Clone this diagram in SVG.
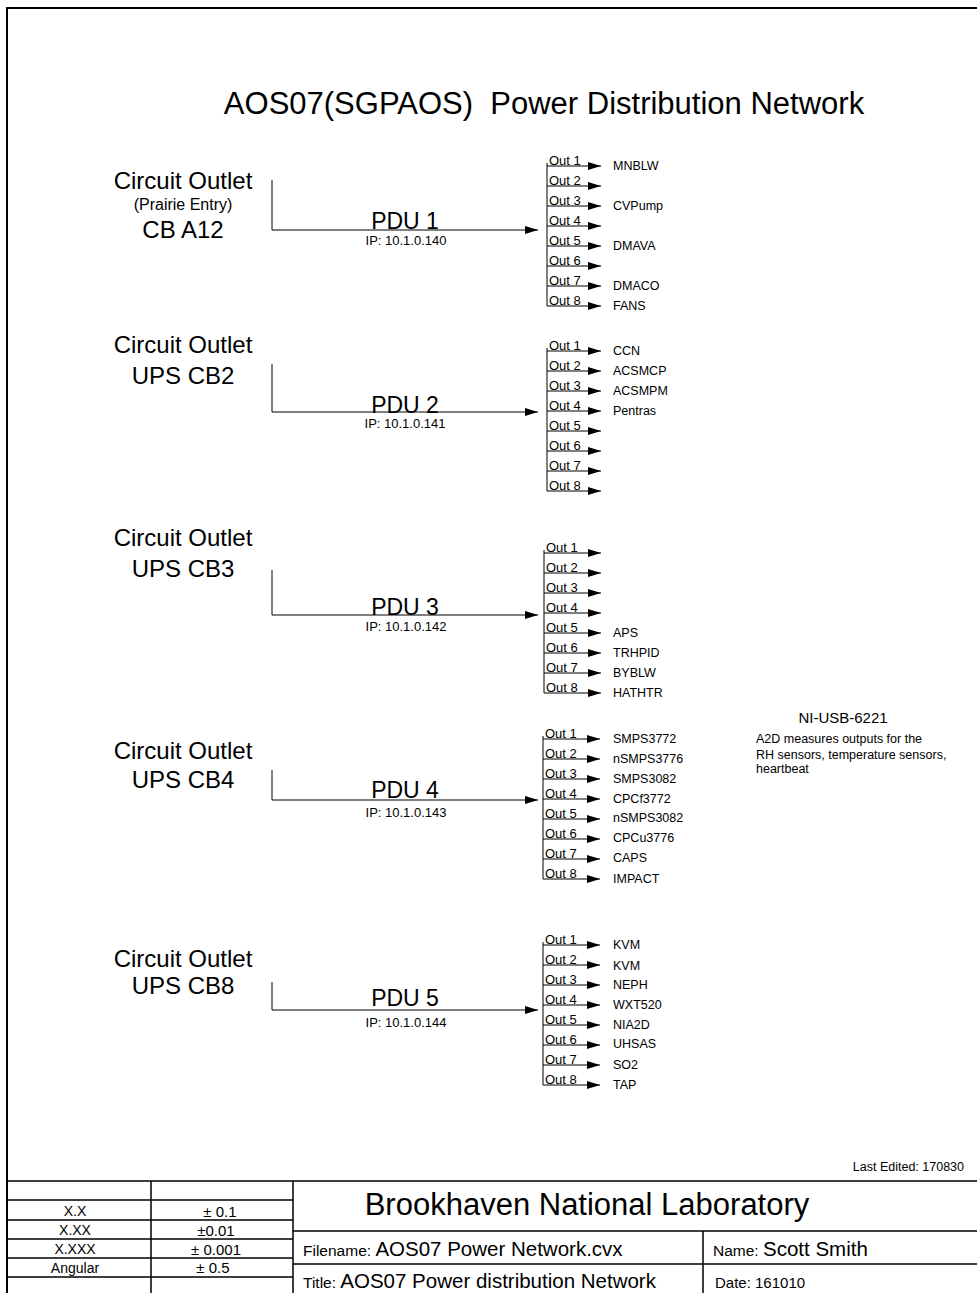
<svg xmlns="http://www.w3.org/2000/svg" width="977" height="1293" viewBox="0 0 977 1293">
<style>
text { font-family: "Liberation Sans", Arial, sans-serif; fill: #000; }
.title { font-size: 31px; text-anchor: middle; white-space: pre; }
.co { font-size: 24px; text-anchor: middle; }
.sub { font-size: 16px; text-anchor: middle; }
.pdu { font-size: 23px; text-anchor: middle; }
.ip { font-size: 13px; text-anchor: middle; }
.out { font-size: 13px; }
.lbl { font-size: 12.5px; }
.ni { font-size: 15px; text-anchor: middle; }
.note { font-size: 12.5px; }
.tb { font-size: 14px; text-anchor: middle; }
.tol { font-size: 15px; text-anchor: middle; }
.ln { stroke: #000; stroke-width: 1; fill: none; }
.arr { stroke: #000; stroke-width: 1; fill: none; marker-end: url(#ah); }
.frame { stroke: #000; stroke-width: 2; fill: none; }
.grid { stroke: #000; stroke-width: 1.5; fill: none; }
</style>
<defs>
<marker id="ah" markerUnits="userSpaceOnUse" markerWidth="14" markerHeight="9" refX="13" refY="4" orient="auto">
<path d="M0,0 L13,4 L0,8 Z" fill="#000"/>
</marker>
</defs>
<rect x="0" y="0" width="977" height="1293" fill="#fff"/>
<path class="frame" d="M7,1293 V8 H977"/>
<text class="title" x="544" y="114" xml:space="preserve">AOS07(SGPAOS)  Power Distribution Network</text>

<g id="outlet1">
<text class="co" x="183" y="189">Circuit Outlet</text>
<text class="sub" x="183" y="210">(Prairie Entry)</text>
<text class="co" x="183" y="238">CB A12</text>
</g>
<g id="outlet2">
<text class="co" x="183" y="353">Circuit Outlet</text>
<text class="co" x="183" y="384">UPS CB2</text>
</g>
<g id="outlet3">
<text class="co" x="183" y="546">Circuit Outlet</text>
<text class="co" x="183" y="577">UPS CB3</text>
</g>
<g id="outlet4">
<text class="co" x="183" y="759">Circuit Outlet</text>
<text class="co" x="183" y="788">UPS CB4</text>
</g>
<g id="outlet5">
<text class="co" x="183" y="967">Circuit Outlet</text>
<text class="co" x="183" y="994">UPS CB8</text>
</g>

<g id="pdu1">
<text class="pdu" x="405" y="229">PDU 1</text>
<text class="ip" x="406" y="245">IP: 10.1.0.140</text>
<text class="out" x="549" y="165">Out 1</text>
<text class="out" x="549" y="185">Out 2</text>
<text class="out" x="549" y="205">Out 3</text>
<text class="out" x="549" y="225">Out 4</text>
<text class="out" x="549" y="245">Out 5</text>
<text class="out" x="549" y="265">Out 6</text>
<text class="out" x="549" y="285">Out 7</text>
<text class="out" x="549" y="305">Out 8</text>
</g>
<g id="loads1">
<text class="lbl" x="613" y="170">MNBLW</text>
<text class="lbl" x="613" y="210">CVPump</text>
<text class="lbl" x="613" y="250">DMAVA</text>
<text class="lbl" x="613" y="290">DMACO</text>
<text class="lbl" x="613" y="310">FANS</text>
</g>

<g id="pdu2">
<text class="pdu" x="405" y="413">PDU 2</text>
<text class="ip" x="405" y="428">IP: 10.1.0.141</text>
<text class="out" x="549" y="350">Out 1</text>
<text class="out" x="549" y="370">Out 2</text>
<text class="out" x="549" y="390">Out 3</text>
<text class="out" x="549" y="410">Out 4</text>
<text class="out" x="549" y="430">Out 5</text>
<text class="out" x="549" y="450">Out 6</text>
<text class="out" x="549" y="470">Out 7</text>
<text class="out" x="549" y="490">Out 8</text>
</g>
<g id="loads2">
<text class="lbl" x="613" y="355">CCN</text>
<text class="lbl" x="613" y="375">ACSMCP</text>
<text class="lbl" x="613" y="395">ACSMPM</text>
<text class="lbl" x="613" y="415">Pentras</text>
</g>

<g id="pdu3">
<text class="pdu" x="405" y="615">PDU 3</text>
<text class="ip" x="406" y="631">IP: 10.1.0.142</text>
<text class="out" x="546" y="552">Out 1</text>
<text class="out" x="546" y="572">Out 2</text>
<text class="out" x="546" y="592">Out 3</text>
<text class="out" x="546" y="612">Out 4</text>
<text class="out" x="546" y="632">Out 5</text>
<text class="out" x="546" y="652">Out 6</text>
<text class="out" x="546" y="672">Out 7</text>
<text class="out" x="546" y="692">Out 8</text>
</g>
<g id="loads3">
<text class="lbl" x="613" y="637">APS</text>
<text class="lbl" x="613" y="657">TRHPID</text>
<text class="lbl" x="613" y="677">BYBLW</text>
<text class="lbl" x="613" y="697">HATHTR</text>
</g>

<g id="pdu4">
<text class="pdu" x="405" y="798">PDU 4</text>
<text class="ip" x="406" y="817">IP: 10.1.0.143</text>
<text class="out" x="545" y="738">Out 1</text>
<text class="out" x="545" y="758">Out 2</text>
<text class="out" x="545" y="778">Out 3</text>
<text class="out" x="545" y="798">Out 4</text>
<text class="out" x="545" y="818">Out 5</text>
<text class="out" x="545" y="838">Out 6</text>
<text class="out" x="545" y="858">Out 7</text>
<text class="out" x="545" y="878">Out 8</text>
</g>
<g id="loads4">
<text class="lbl" x="613" y="743">SMPS3772</text>
<text class="lbl" x="613" y="763">nSMPS3776</text>
<text class="lbl" x="613" y="783">SMPS3082</text>
<text class="lbl" x="613" y="803">CPCf3772</text>
<text class="lbl" x="613" y="822">nSMPS3082</text>
<text class="lbl" x="613" y="842">CPCu3776</text>
<text class="lbl" x="613" y="862">CAPS</text>
<text class="lbl" x="613" y="883">IMPACT</text>
</g>

<g id="pdu5">
<text class="pdu" x="405" y="1006">PDU 5</text>
<text class="ip" x="406" y="1027">IP: 10.1.0.144</text>
<text class="out" x="545" y="944">Out 1</text>
<text class="out" x="545" y="964">Out 2</text>
<text class="out" x="545" y="984">Out 3</text>
<text class="out" x="545" y="1004">Out 4</text>
<text class="out" x="545" y="1024">Out 5</text>
<text class="out" x="545" y="1044">Out 6</text>
<text class="out" x="545" y="1064">Out 7</text>
<text class="out" x="545" y="1084">Out 8</text>
</g>
<g id="loads5">
<text class="lbl" x="613" y="949">KVM</text>
<text class="lbl" x="613" y="970">KVM</text>
<text class="lbl" x="613" y="989">NEPH</text>
<text class="lbl" x="613" y="1009">WXT520</text>
<text class="lbl" x="613" y="1029">NIA2D</text>
<text class="lbl" x="613" y="1048">UHSAS</text>
<text class="lbl" x="613" y="1069">SO2</text>
<text class="lbl" x="613" y="1089">TAP</text>
</g>

<g id="ni-usb">
<text class="ni" x="843" y="723">NI-USB-6221</text>
<text class="note" x="756" y="743">A2D measures outputs for the</text>
<text class="note" x="756" y="759">RH sensors, temperature sensors,</text>
<text class="note" x="756" y="773">heartbeat</text>
</g>

<g id="connectors">
<path class="arr" d="M272,180 V230 H538"/>
<path class="ln" d="M547,163 V306"/>
<path class="arr" d="M547,166 H601"/>
<path class="arr" d="M547,186 H601"/>
<path class="arr" d="M547,206 H601"/>
<path class="arr" d="M547,226 H601"/>
<path class="arr" d="M547,246 H601"/>
<path class="arr" d="M547,266 H601"/>
<path class="arr" d="M547,286 H601"/>
<path class="arr" d="M547,306 H601"/>

<path class="arr" d="M272,364 V412 H538"/>
<path class="ln" d="M547,348 V491"/>
<path class="arr" d="M547,351 H601"/>
<path class="arr" d="M547,371 H601"/>
<path class="arr" d="M547,391 H601"/>
<path class="arr" d="M547,411 H601"/>
<path class="arr" d="M547,431 H601"/>
<path class="arr" d="M547,451 H601"/>
<path class="arr" d="M547,471 H601"/>
<path class="arr" d="M547,491 H601"/>

<path class="arr" d="M272,570 V615 H538"/>
<path class="ln" d="M544,550 V693"/>
<path class="arr" d="M544,553 H601"/>
<path class="arr" d="M544,573 H601"/>
<path class="arr" d="M544,593 H601"/>
<path class="arr" d="M544,613 H601"/>
<path class="arr" d="M544,633 H601"/>
<path class="arr" d="M544,653 H601"/>
<path class="arr" d="M544,673 H601"/>
<path class="arr" d="M544,693 H601"/>

<path class="arr" d="M272,770 V800 H538"/>
<path class="ln" d="M543,736 V879"/>
<path class="arr" d="M543,739 H600"/>
<path class="arr" d="M543,759 H600"/>
<path class="arr" d="M543,779 H600"/>
<path class="arr" d="M543,799 H600"/>
<path class="arr" d="M543,819 H600"/>
<path class="arr" d="M543,839 H600"/>
<path class="arr" d="M543,859 H600"/>
<path class="arr" d="M543,879 H600"/>

<path class="arr" d="M272,982 V1010 H538"/>
<path class="ln" d="M543,942 V1085"/>
<path class="arr" d="M543,945 H600"/>
<path class="arr" d="M543,965 H600"/>
<path class="arr" d="M543,985 H600"/>
<path class="arr" d="M543,1005 H600"/>
<path class="arr" d="M543,1025 H600"/>
<path class="arr" d="M543,1045 H600"/>
<path class="arr" d="M543,1065 H600"/>
<path class="arr" d="M543,1085 H600"/>
</g>

<g id="title-block">
<text x="964" y="1171" font-size="12.5" text-anchor="end">Last Edited: 170830</text>
<path class="grid" d="M7,1181 H977"/>
<path class="grid" d="M7,1200 H293 M7,1220 H293 M7,1239 H293 M7,1258 H293 M7,1277 H293"/>
<path class="grid" d="M151,1181 V1293 M293,1181 V1293"/>
<path class="grid" d="M293,1231 H977 M293,1264 H977 M703,1231 V1293"/>
<text class="tb" x="75" y="1216">X.X</text>
<text class="tb" x="75" y="1235">X.XX</text>
<text class="tb" x="75" y="1254">X.XXX</text>
<text class="tb" x="75" y="1273">Angular</text>
<text class="tol" x="220" y="1217">± 0.1</text>
<text class="tol" x="216" y="1236">±0.01</text>
<text class="tol" x="216" y="1255">± 0.001</text>
<text class="tol" x="213" y="1273">± 0.5</text>
<text x="587" y="1215" font-size="31" text-anchor="middle">Brookhaven National Laboratory</text>
<text x="303" y="1256"><tspan font-size="15.5">Filename: </tspan><tspan font-size="20.5">AOS07 Power Network.cvx</tspan></text>
<text x="303" y="1288"><tspan font-size="15.5">Title: </tspan><tspan font-size="20.5">AOS07 Power distribution Network</tspan></text>
<text x="713" y="1256"><tspan font-size="15.5">Name: </tspan><tspan font-size="20.5">Scott Smith</tspan></text>
<text x="715" y="1288" font-size="15">Date: 161010</text>
</g>
</svg>
